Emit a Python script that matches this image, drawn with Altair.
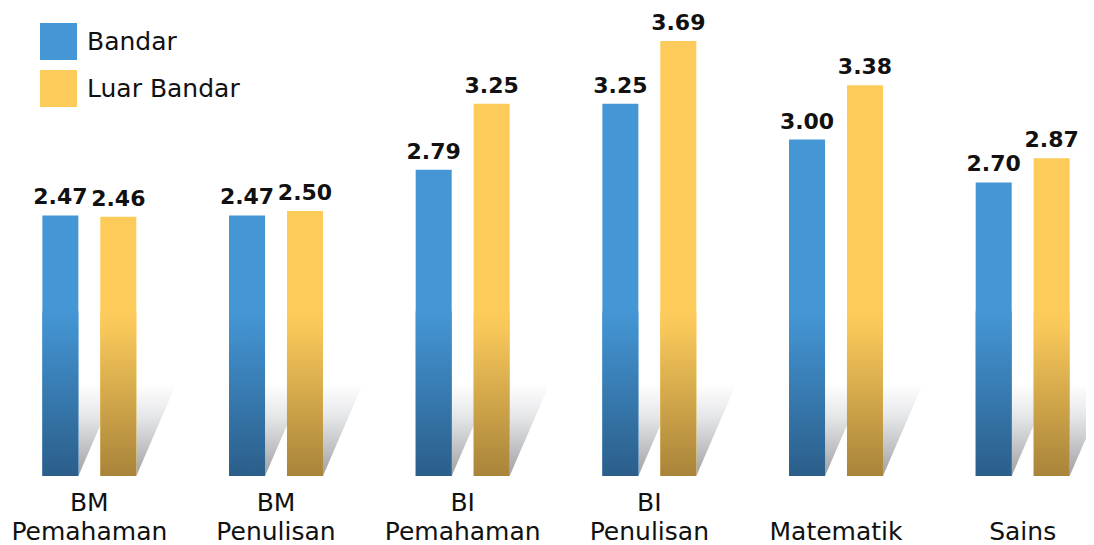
import altair as alt
import pandas as pd

categories = ["BM Pemahaman", "BM Penulisan", "BI Pemahaman", "BI Penulisan", "Matematik", "Sains"]
bandar = [2.47, 2.47, 2.79, 3.25, 3.00, 2.70]
luar_bandar = [2.46, 2.50, 3.25, 3.69, 3.38, 2.87]
series = ["Bandar", "Luar Bandar"]
colors_top = ["#4596d5", "#fdcb5a"]
colors_mid = ["#4190cd", "#f6c659"]
colors_bottom = ["#2b5e8a", "#a8843a"]

BASE = 0.648
TOP = 3.92
FADE = 1.8

rows = []
for i, c in enumerate(categories):
    rows.append({"cat": c, "series": series[0], "value": bandar[i]})
    rows.append({"cat": c, "series": series[1], "value": luar_bandar[i]})
df = pd.DataFrame(rows)

label_expr = "length(split(datum.label, ' ')) > 1 ? split(datum.label, ' ') : ['', datum.label]"

x_enc = alt.X(
    "cat:N", sort=categories,
    scale=alt.Scale(paddingInner=0, paddingOuter=0),
    axis=alt.Axis(title=None, labelExpr=label_expr, labelAngle=0, domain=False, ticks=False,
                  labelFontSize=25, labelFont="DejaVu Sans", labelColor="#111111",
                  labelPadding=14, labelLineHeight=29, labelBaseline="top", labelLimit=0,
                  grid=False),
)
xo_enc = alt.XOffset("series:N", sort=series,
                     scale=alt.Scale(domain=series, paddingInner=0.379, paddingOuter=0.8))
y_scale = alt.Scale(domain=[BASE, TOP], zero=False, nice=False)
y_enc = alt.Y("value:Q", scale=y_scale, axis=None)

shadow_grad = alt.LinearGradient(
    gradient="linear", x1=0, y1=0, x2=0, y2=1,
    stops=[alt.GradientStop(offset=0, color="#ffffff"),
           alt.GradientStop(offset=0.35, color="#e6e7e9"),
           alt.GradientStop(offset=1, color="#9fa1a4")],
)

shadows = alt.Chart(df).mark_point(
    shape="M0.36,-1.85L1.16,-1.85L0.36,0Z", size=10000, filled=True, opacity=1,
    strokeWidth=0, fill=shadow_grad,
).encode(x=x_enc, xOffset=xo_enc, y=alt.YDatum(BASE, scale=y_scale, axis=None))

bars = alt.Chart(df).mark_bar(width=36).encode(
    x=x_enc, xOffset=xo_enc, y=y_enc, y2=alt.Y2Datum(BASE),
    color=alt.Color("series:N", scale=alt.Scale(domain=series, range=colors_top),
                    legend=alt.Legend(orient="none", legendX=44, legendY=15, title=None,
                                      symbolType="square", symbolSize=1369,
                                      labelFontSize=25, labelFont="DejaVu Sans",
                                      labelColor="#111111", labelOffset=10, rowPadding=10,
                                      padding=0, symbolStrokeWidth=0, symbolOpacity=1)),
)

fades = []
for s, ct, cm, cb in zip(series, colors_top, colors_mid, colors_bottom):
    grad = alt.LinearGradient(
        gradient="linear", x1=0, y1=0, x2=0, y2=1,
        stops=[alt.GradientStop(offset=0, color=ct),
               alt.GradientStop(offset=0.12, color=cm),
               alt.GradientStop(offset=1, color=cb)],
    )
    fades.append(
        alt.Chart(df).transform_filter(alt.datum.series == s).mark_bar(width=36, fill=grad).encode(
            x=x_enc, xOffset=xo_enc, y=alt.YDatum(FADE, scale=y_scale, axis=None),
            y2=alt.Y2Datum(BASE),
        )
    )

labels = alt.Chart(df).mark_text(
    dy=-6, baseline="bottom", fontSize=22, fontWeight="bold", font="DejaVu Sans", color="#111111"
).encode(x=x_enc, xOffset=xo_enc, y=y_enc, text=alt.Text("value:Q", format=".2f"))

chart = alt.layer(shadows, bars, *fades, labels).properties(
    width=1120, height=468,
    padding={"left": -12, "right": -30, "top": 0, "bottom": 69},
    autosize="none", background="white",
).configure_view(stroke=None)

chart.save("out.html", embed_options={"renderer": "svg", "actions": False})
